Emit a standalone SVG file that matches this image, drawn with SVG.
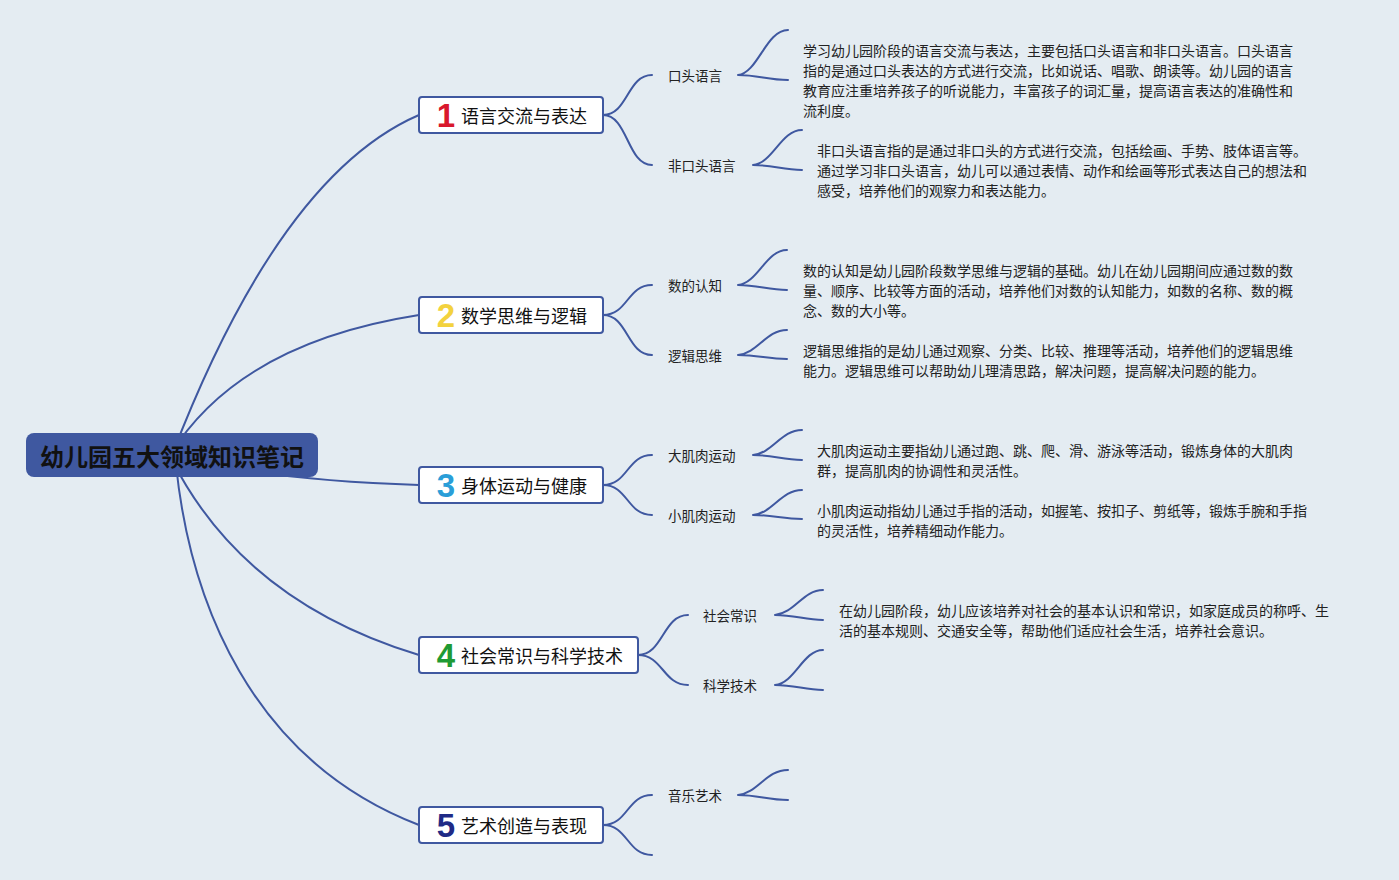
<svg xmlns="http://www.w3.org/2000/svg" width="1399" height="880" viewBox="0 0 1399 880">
<style>
.bg{fill:#e4ecf2}
.ln{fill:none;stroke:#3f58a0;stroke-width:2;stroke-linecap:round}
.box{fill:#ffffff;stroke:#3f58a0;stroke-width:2}
.root{fill:#3f58a0}
.rt{font-family:"Noto Sans CJK SC","Noto Sans",sans-serif;font-size:24px;font-weight:700;fill:#111;text-anchor:middle}
.num{font-family:"Liberation Sans","Noto Sans",sans-serif;font-size:33px;font-weight:700;text-anchor:middle}
.mt{font-family:"Noto Sans CJK SC","Noto Sans",sans-serif;font-size:18px;fill:#111}
.lb{font-family:"Noto Sans CJK SC","Noto Sans",sans-serif;font-size:13.5px;fill:#222}
.ds{font-family:"Noto Sans CJK SC","Noto Sans",sans-serif;font-size:14px;fill:#222}
</style>
<rect class="bg" x="0" y="0" width="1399" height="880"/>
<g id="connectors">
<path class="ln" d="M172,455 Q280,175 419,115"/>
<path class="ln" d="M170,455 Q239,343 419,315"/>
<path class="ln" d="M172,455 Q260,480 419,485"/>
<path class="ln" d="M172,460 Q244,602 419,655"/>
<path class="ln" d="M176,465 C190,600 250,760 419,825"/>
<path class="ln" d="M603,115 C628,115 627,75 652,75 M603,115 C628,115 627,165 652,165"/>
<path class="ln" d="M603,315 C628,315 627,285 652,285 M603,315 C628,315 627,355 652,355"/>
<path class="ln" d="M603,485 C628,485 627,455 652,455 M603,485 C628,485 627,515 652,515"/>
<path class="ln" d="M638,655 C663,655 663,615 688,615 M638,655 C663,655 663,685 688,685"/>
<path class="ln" d="M603,825 C628,825 627,795 652,795 M603,825 C628,825 627,855 652,855"/>
<path class="ln" d="M738,75 C758,73 766,30 788,30 M738,75 C758,75 768,80 788,80"/>
<path class="ln" d="M753,165 C773,163 781,130 802,130 M753,165 C773,165 783,170 802,170"/>
<path class="ln" d="M738,285 C758,283 766,250 787,250 M738,285 C758,285 768,290 787,290"/>
<path class="ln" d="M738,355 C758,353 766,330 787,330 M738,355 C758,355 768,359 787,359"/>
<path class="ln" d="M753,455 C773,453 781,430 802,430 M753,455 C773,455 783,460 802,460"/>
<path class="ln" d="M753,515 C773,513 781,490 802,490 M753,515 C773,515 783,519 802,519"/>
<path class="ln" d="M775,615 C795,613 803,590 823,590 M775,615 C795,615 805,620 823,620"/>
<path class="ln" d="M775,685 C795,683 803,650 823,650 M775,685 C795,685 805,690 823,690"/>
<path class="ln" d="M738,795 C758,793 766,770 788,770 M738,795 C758,795 768,800 788,800"/>
</g>
<g id="root">
<rect class="root" x="26" y="433" width="292" height="44" rx="8"/>
<text class="rt" x="172" y="466">幼儿园五大领域知识笔记</text>
</g>
<g id="node1">
<rect class="box" x="419" y="97" width="184" height="36" rx="3"/>
<text class="num" x="446" y="127" fill="#d9182d">1</text>
<text class="mt" x="461" y="122.5">语言交流与表达</text>
</g>
<g id="node2">
<rect class="box" x="419" y="297" width="184" height="36" rx="3"/>
<text class="num" x="446" y="327" fill="#f3d23e">2</text>
<text class="mt" x="461" y="322.5">数学思维与逻辑</text>
</g>
<g id="node3">
<rect class="box" x="419" y="467" width="184" height="36" rx="3"/>
<text class="num" x="446" y="497" fill="#2a9ed8">3</text>
<text class="mt" x="461" y="492.5">身体运动与健康</text>
</g>
<g id="node4">
<rect class="box" x="419" y="637" width="219" height="36" rx="3"/>
<text class="num" x="446" y="667" fill="#1f9a34">4</text>
<text class="mt" x="461" y="662.5">社会常识与科学技术</text>
</g>
<g id="node5">
<rect class="box" x="419" y="807" width="184" height="36" rx="3"/>
<text class="num" x="446" y="837" fill="#1f2a86">5</text>
<text class="mt" x="461" y="832.5">艺术创造与表现</text>
</g>
<g id="sub-koutou"><text class="lb" x="668" y="81">口头语言</text></g>
<g id="sub-feikoutou"><text class="lb" x="668" y="171">非口头语言</text></g>
<g id="sub-shu"><text class="lb" x="668" y="291">数的认知</text></g>
<g id="sub-luoji"><text class="lb" x="668" y="361">逻辑思维</text></g>
<g id="sub-da"><text class="lb" x="668" y="461">大肌肉运动</text></g>
<g id="sub-xiao"><text class="lb" x="668" y="521">小肌肉运动</text></g>
<g id="sub-shehui"><text class="lb" x="703" y="621">社会常识</text></g>
<g id="sub-keji"><text class="lb" x="703" y="691">科学技术</text></g>
<g id="sub-yinyue"><text class="lb" x="668" y="801">音乐艺术</text></g>
<g id="desc-koutou"><text class="ds">
<tspan x="803" y="56">学习幼儿园阶段的语言交流与表达，主要包括口头语言和非口头语言。口头语言</tspan>
<tspan x="803" y="76">指的是通过口头表达的方式进行交流，比如说话、唱歌、朗读等。幼儿园的语言</tspan>
<tspan x="803" y="96">教育应注重培养孩子的听说能力，丰富孩子的词汇量，提高语言表达的准确性和</tspan>
<tspan x="803" y="116">流利度。</tspan>
</text></g>
<g id="desc-feikoutou"><text class="ds">
<tspan x="817" y="156">非口头语言指的是通过非口头的方式进行交流，包括绘画、手势、肢体语言等。</tspan>
<tspan x="817" y="176">通过学习非口头语言，幼儿可以通过表情、动作和绘画等形式表达自己的想法和</tspan>
<tspan x="817" y="196">感受，培养他们的观察力和表达能力。</tspan>
</text></g>
<g id="desc-shu"><text class="ds">
<tspan x="803" y="276">数的认知是幼儿园阶段数学思维与逻辑的基础。幼儿在幼儿园期间应通过数的数</tspan>
<tspan x="803" y="296">量、顺序、比较等方面的活动，培养他们对数的认知能力，如数的名称、数的概</tspan>
<tspan x="803" y="316">念、数的大小等。</tspan>
</text></g>
<g id="desc-luoji"><text class="ds">
<tspan x="803" y="356">逻辑思维指的是幼儿通过观察、分类、比较、推理等活动，培养他们的逻辑思维</tspan>
<tspan x="803" y="376">能力。逻辑思维可以帮助幼儿理清思路，解决问题，提高解决问题的能力。</tspan>
</text></g>
<g id="desc-da"><text class="ds">
<tspan x="817" y="456">大肌肉运动主要指幼儿通过跑、跳、爬、滑、游泳等活动，锻炼身体的大肌肉</tspan>
<tspan x="817" y="476">群，提高肌肉的协调性和灵活性。</tspan>
</text></g>
<g id="desc-xiao"><text class="ds">
<tspan x="817" y="516">小肌肉运动指幼儿通过手指的活动，如握笔、按扣子、剪纸等，锻炼手腕和手指</tspan>
<tspan x="817" y="536">的灵活性，培养精细动作能力。</tspan>
</text></g>
<g id="desc-shehui"><text class="ds">
<tspan x="839" y="616">在幼儿园阶段，幼儿应该培养对社会的基本认识和常识，如家庭成员的称呼、生</tspan>
<tspan x="839" y="636">活的基本规则、交通安全等，帮助他们适应社会生活，培养社会意识。</tspan>
</text></g>
</svg>
